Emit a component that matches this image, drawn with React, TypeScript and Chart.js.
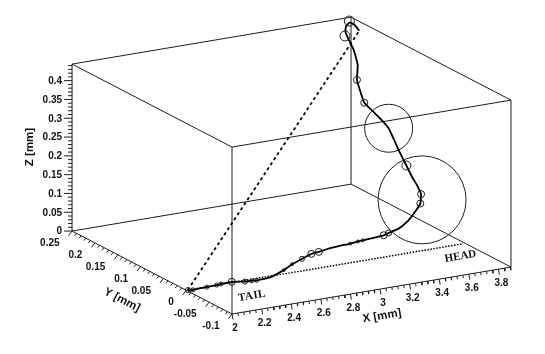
import React, { useEffect, useRef } from "react";
import { Chart, registerables } from "chart.js";

Chart.register(...registerables);

// Worm centre line, in mm
const curveX = [2.01, 2.016, 2.039, 2.132, 2.199, 2.228, 2.301, 2.378, 2.423, 2.457, 2.547, 2.64, 2.696, 2.782, 2.845, 2.895, 2.985, 3.108, 3.16, 3.192, 3.334, 3.367, 3.435, 3.491, 3.536, 3.581, 3.648, 3.682, 3.71, 3.703, 3.682, 3.676, 3.67, 3.666, 3.694, 3.709, 3.745, 3.749, 3.741, 3.754, 3.789, 3.827, 3.857, 3.879];
const curveY = [0, -0.003, -0.002, -0.002, -0.002, -0.002, -0.002, -0.006, -0.006, -0.006, -0.006, -0.006, -0.006, 0, 0, 0, 0, 0, 0, 0, 0, 0, 0, 0, 0, 0, 0.02, 0.04, 0.06, 0.07, 0.08, 0.1, 0.12, 0.15, 0.17, 0.18, 0.19, 0.2, 0.21, 0.22, 0.23, 0.235, 0.235, 0.23];
const curveZ = [0, 0, 0, 0.001, 0.002, 0.003, 0.004, 0.002, 0.001, 0, 0.002, 0.015, 0.027, 0.032, 0.041, 0.043, 0.048, 0.051, 0.053, 0.054, 0.058, 0.062, 0.069, 0.083, 0.102, 0.126, 0.134, 0.143, 0.151, 0.175, 0.211, 0.257, 0.275, 0.294, 0.318, 0.333, 0.364, 0.397, 0.423, 0.433, 0.438, 0.443, 0.437, 0.421];

// Error circles along the worm
const circleX = [2.01, 2.039, 2.132, 2.199, 2.228, 2.301, 2.378, 2.423, 2.457, 2.64, 2.696, 2.782, 2.845, 2.895, 3.108, 3.16, 3.192, 3.334, 3.367, 3.581, 3.648, 3.703, 3.666, 3.709, 3.736, 3.827, 3.676, 3.593];
const circleY = [0, -0.002, -0.002, -0.002, -0.002, -0.002, -0.006, -0.006, -0.006, -0.006, -0.006, 0, 0, 0, 0, 0, 0, 0, 0, 0, 0.02, 0.07, 0.15, 0.18, 0.215, 0.235, 0.1, 0];
const circleZ = [0, 0, 0.001, 0.002, 0.003, 0.004, 0.002, 0.001, 0, 0.015, 0.027, 0.032, 0.041, 0.043, 0.051, 0.053, 0.054, 0.058, 0.062, 0.126, 0.134, 0.175, 0.294, 0.333, 0.426, 0.447, 0.257, 0.135];
const circleSize = [2.5, 2, 2, 2, 2, 3.5, 2.5, 2, 2, 1.5, 1.5, 2.5, 3.5, 3.5, 1.5, 1.5, 1.5, 3.5, 3, 3.5, 3.5, 4.5, 3.5, 3.5, 5, 5, 24, 44];

// Straight reference lines
const dashedX = [2.01, 3.879];
const dashedY = [0, 0.23];
const dashedZ = [0, 0.421];
const dottedX = [2.01, 3.87];
const dottedY = [0, 0];
const dottedZ = [0, 0];

// Axis ranges and ticks
const xRange = [2, 3.885];
const yRange = [-0.1, 0.25];
const zRange = [0, 0.444];
const xTicks = [2, 2.2, 2.4, 2.6, 2.8, 3, 3.2, 3.4, 3.6, 3.8];
const xTickLabels = ["2", "2.2", "2.4", "2.6", "2.8", "3", "3.2", "3.4", "3.6", "3.8"];
const yTicks = [-0.1, -0.05, 0, 0.05, 0.1, 0.15, 0.2, 0.25];
const yTickLabels = ["-0.1", "-0.05", "0", "0.05", "0.1", "0.15", "0.2", "0.25"];
const zTicks = [0, 0.05, 0.1, 0.15, 0.2, 0.25, 0.3, 0.35, 0.4];
const zTickLabels = ["0", "0.05", "0.1", "0.15", "0.2", "0.25", "0.3", "0.35", "0.4"];

const WIDTH = 545;
const HEIGHT = 354;
const INK = "#1c1c1c";
const SANS = '"Liberation Sans", Arial, sans-serif';
const SERIF = '"Liberation Serif", "Times New Roman", serif';

// Oblique projection of the box onto the picture
function project(x: number, y: number, z: number) {
  const a = x - 2;
  const b = y + 0.1;
  return {
    x: 232 + 148 * a - 457 * b,
    y: 314 - 24.9 * a - 237 * b - 376 * z,
  };
}

const gap = { x: NaN, y: NaN };

function boxEdges() {
  const [x0, x1] = xRange;
  const [y0, y1] = yRange;
  const [z0, z1] = zRange;
  const pts: { x: number; y: number }[] = [];
  const seg = (a: number[], b: number[]) => {
    pts.push(project(a[0], a[1], a[2]), project(b[0], b[1], b[2]), gap);
  };
  for (const z of [z0, z1]) {
    seg([x0, y0, z], [x1, y0, z]);
    seg([x1, y0, z], [x1, y1, z]);
    seg([x1, y1, z], [x0, y1, z]);
    seg([x0, y1, z], [x0, y0, z]);
  }
  seg([x0, y0, z0], [x0, y0, z1]);
  seg([x1, y0, z0], [x1, y0, z1]);
  seg([x1, y1, z0], [x1, y1, z1]);
  seg([x0, y1, z0], [x0, y1, z1]);
  return pts;
}

function axisTicks() {
  const pts: { x: number; y: number }[] = [];
  const add = (p: { x: number; y: number }, dx: number, dy: number) => {
    pts.push(p, { x: p.x + dx, y: p.y + dy }, gap);
  };
  for (let i = 0; i <= 47; i++) {
    const v = xRange[0] + i * 0.04;
    if (v > xRange[1]) break;
    const major = i % 5 === 0;
    add(project(v, yRange[0], 0), major ? 1 : 0.5, major ? 5.5 : 3);
  }
  for (let i = 0; i <= 35; i++) {
    const v = yRange[0] + i * 0.01;
    const major = i % 5 === 0;
    add(project(xRange[0], v, 0), major ? -3.5 : -2, major ? 4.5 : 2.5);
  }
  for (let i = 0; i <= 44; i++) {
    const v = i * 0.01;
    const major = i % 5 === 0;
    add(project(xRange[0], yRange[1], v), major ? -8 : -4, 0);
  }
  return pts;
}

const tiltX = -Math.atan2(47, 279);
const tiltY = Math.atan2(83, 160);

const textPlugin = {
  id: "boxText",
  afterDatasetsDraw(chart: any) {
    const ctx = chart.ctx;
    const sx = chart.scales.x;
    const sy = chart.scales.y;
    const put = (
      text: string,
      p: { x: number; y: number },
      font: string,
      align: CanvasTextAlign = "center",
      rotation = 0,
      spacing = "0px",
    ) => {
      ctx.save();
      ctx.translate(sx.getPixelForValue(p.x), sy.getPixelForValue(p.y));
      ctx.rotate(rotation);
      ctx.font = font;
      ctx.letterSpacing = spacing;
      ctx.fillStyle = "#111";
      ctx.textAlign = align;
      ctx.textBaseline = "middle";
      ctx.fillText(text, 0, 0);
      ctx.restore();
    };
    const tickFont = `bold 10px ${SANS}`;
    xTicks.forEach((v, i) => {
      const p = project(v, yRange[0], 0);
      put(xTickLabels[i], { x: p.x + 3, y: p.y + 14 }, tickFont);
    });
    yTicks.forEach((v, i) => {
      const p = project(xRange[0], v, 0);
      put(yTickLabels[i], { x: p.x - 12.5, y: p.y + 12.3 }, tickFont, "right");
    });
    zTicks.forEach((v, i) => {
      const p = project(xRange[0], yRange[1], v);
      put(zTickLabels[i], { x: p.x - 10, y: p.y + 0.5 }, tickFont, "right");
    });
    const titleFont = `bold 11.5px ${SANS}`;
    put("X [mm]", { x: 382, y: 316 }, titleFont, "center", tiltX);
    put("Y [mm]", { x: 122, y: 300 }, titleFont, "center", tiltY);
    put("Z [mm]", { x: 30, y: 147 }, titleFont, "center", -Math.PI / 2);
    const noteFont = `bold 11px ${SERIF}`;
    put("TAIL", { x: 252, y: 296 }, noteFont, "center", tiltX, "0.5px");
    put("HEAD", { x: 460.5, y: 256.5 }, noteFont, "center", tiltX);
  },
};

export default function App() {
  const ref = useRef<HTMLCanvasElement | null>(null);

  useEffect(() => {
    document.body.style.margin = "0";
    const curve = curveX.map((v, i) => project(v, curveY[i], curveZ[i]));
    const circles = circleX.map((v, i) => project(v, circleY[i], circleZ[i]));
    const dashed = dashedX.map((v, i) => project(v, dashedY[i], dashedZ[i]));
    const dotted = dottedX.map((v, i) => project(v, dottedY[i], dottedZ[i]));
    const line = { type: "scatter", showLine: true, pointRadius: 0, spanGaps: false };
    const chart = new Chart(ref.current as HTMLCanvasElement, {
      type: "scatter",
      data: {
        datasets: [
          { ...line, label: "box", data: boxEdges(), borderColor: INK, borderWidth: 1, order: 5 },
          { ...line, label: "ticks", data: axisTicks(), borderColor: INK, borderWidth: 1, order: 4 },
          { ...line, label: "tail to head", data: dashed, borderColor: "#000", borderWidth: 1.8, borderDash: [3, 3], order: 3 },
          { ...line, label: "floor", data: dotted, borderColor: "#000", borderWidth: 1.5, borderDash: [1.5, 1.5], order: 3 },
          { ...line, label: "worm", data: curve, borderColor: "#000", borderWidth: 1.8, tension: 0.12, order: 2 },
          {
            label: "circles",
            data: circles,
            showLine: false,
            pointRadius: circleSize,
            pointBackgroundColor: "rgba(0,0,0,0)",
            pointBorderColor: INK,
            pointBorderWidth: 1,
            clip: false,
            order: 1,
          },
        ] as any,
      },
      options: {
        animation: false,
        responsive: false,
        layout: { padding: 0, autoPadding: false },
        plugins: { legend: { display: false }, tooltip: { enabled: false } },
        scales: {
          x: { type: "linear", min: 0, max: WIDTH, display: false },
          y: { type: "linear", min: 0, max: HEIGHT, reverse: true, display: false },
        },
      },
      plugins: [textPlugin],
    });
    return () => chart.destroy();
  }, []);

  return (
    <div style={{ width: WIDTH, height: HEIGHT, background: "#fff" }}>
      <canvas ref={ref} width={WIDTH} height={HEIGHT} style={{ display: "block" }} />
    </div>
  );
}
